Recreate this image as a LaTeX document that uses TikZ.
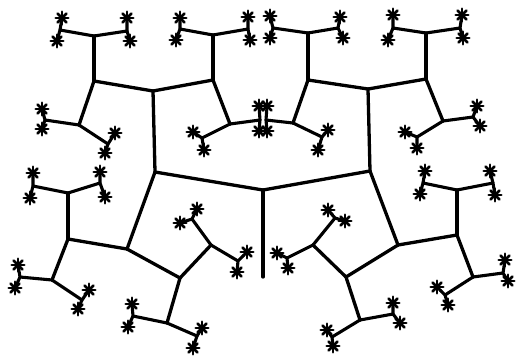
\documentclass[tikz,border=0pt]{standalone}
\usepackage{tikz}
\tikzset{
  limb/.style={draw=black,line width=3.3pt,line cap=round,line join=round},
  twig/.style={draw=black,line width=3.1pt,line cap=round,line join=round},
  spoke/.style={draw=black,line width=2.6pt,line cap=round},
  starhub/.style={circle,fill=black,inner sep=0pt,minimum size=7pt}
}

\begin{document}
\begin{tikzpicture}[x=1pt,y=-1pt]
  \useasboundingbox (0,0) rectangle (521,360);
  % trunk
  \coordinate (r0) at (263,190);
  \coordinate (stub) at (263,277);
  \coordinate (l1) at (155,172);
  \coordinate (r1) at (370,171);
  % left half
  \coordinate (lc) at (153,91);
  \coordinate (lb) at (94,81);
  \coordinate (le) at (213,80);
  \coordinate (la) at (94,36);
  \coordinate (ld) at (79,125);
  \coordinate (lf) at (213,35);
  \coordinate (lg) at (230,124);
  \coordinate (lh) at (127,249);
  \coordinate (li) at (68,239);
  \coordinate (lj) at (180,278);
  \coordinate (lk) at (68,193);
  \coordinate (lm) at (52,280);
  \coordinate (ln) at (211,245);
  \coordinate (lo) at (167,323);
  % right half
  \coordinate (rc) at (368,89);
  \coordinate (rb) at (426,79);
  \coordinate (re) at (308,80);
  \coordinate (ra) at (426,33);
  \coordinate (rd) at (443,121);
  \coordinate (rf) at (308,33);
  \coordinate (rg) at (293,123);
  \coordinate (rh) at (398,245);
  \coordinate (ri) at (457,235);
  \coordinate (rj) at (346,277);
  \coordinate (rk) at (457,190);
  \coordinate (rm) at (473,277);
  \coordinate (rn) at (313,245);
  \coordinate (ro) at (360,320);

  \foreach \u/\v in {r0/stub,r0/l1,r0/r1,
    l1/lc,l1/lh,lc/lb,lc/le,lb/la,lb/ld,le/lf,le/lg,lh/li,lh/lj,li/lk,li/lm,lj/ln,lj/lo,
    r1/rc,r1/rh,rc/rb,rc/re,rb/ra,rb/rd,re/rf,re/rg,rh/ri,rh/rj,ri/rk,ri/rm,rj/rn,rj/ro}
    \draw[limb] (\u) -- (\v);

  % leaf clusters: parent/name/leaf/upper star/lower star
  \foreach \p/\n/\qx/\qy/\ax/\ay/\bx/\by in {
    la/la1/60/30/62/18/57/41,     la/la2/127/31/127/18/130/41,
    ld/ld1/45/120/42/109/42/129,  ld/ld2/108/144/115/133/105/153,
    lf/lf1/180/29/180/18/176/40,  lf/lf2/248/29/248/17/250/40,
    lg/lg1/260/120/259/106/259/131, lg/lg2/202/138/193/132/204/150,
    lk/lk1/33/186/33/173/30/198,  lk/lk2/100/183/100/172/105/197,
    lm/lm1/20/277/18/265/15/288,  lm/lm2/82/300/89/290/78/309,
    ln/ln1/192/219/197/209/180/223, ln/ln2/238/261/247/252/237/272,
    lo/lo1/133/316/132/304/128/327, lo/lo2/197/336/202/328/193/348,
    ra/ra1/393/28/393/15/388/40,  ra/ra2/460/28/462/15/463/38,
    rd/rd1/473/117/477/106/480/126, rd/rd2/417/137/405/132/417/148,
    rf/rf1/273/28/270/16/270/38,  rf/rf2/338/28/340/17/343/38,
    rg/rg1/266/120/267/106/267/131, rg/rg2/322/137/328/130/318/150,
    rk/rk1/423/183/425/171/420/194, rk/rk2/493/183/490/171/495/195,
    rm/rm1/503/273/505/260/508/281, rm/rm2/445/295/437/287/448/305,
    rn/rn1/335/218/328/210/345/221, rn/rn2/287/258/277/253/288/268,
    ro/ro1/393/314/393/303/400/323, ro/ro2/332/337/327/330/333/346}{
    \coordinate (\n) at (\qx,\qy);
    \node[starhub] (\n a) at (\ax,\ay) {};
    \node[starhub] (\n b) at (\bx,\by) {};
    \draw[twig] (\p) -- (\n);
    \draw[twig] (\n a) -- (\n) -- (\n b);
    \foreach \s in {\n a,\n b}
      \foreach \a in {0,45,90,135}
        \draw[spoke] ([shift={(\a:6.3pt)}]\s.center) -- ([shift={(\a+180:6.3pt)}]\s.center);
  }
\end{tikzpicture}
\end{document}
